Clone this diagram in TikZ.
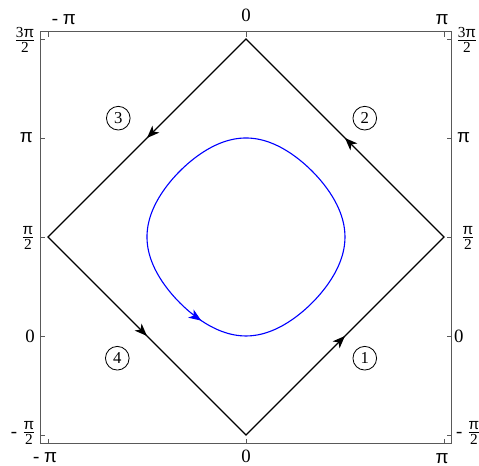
\documentclass[tikz,border=0pt]{standalone}
\usepackage{fontspec}
\setmainfont{Liberation Serif}
\newfontfamily\pisans{Liberation Sans}
\usetikzlibrary{arrows.meta,decorations.markings}

\newcommand{\PI}{{\pisans π}}
\newcommand{\fracsz}{\fontsize{11}{12}\selectfont}
\newcommand{\halfof}[1]{$\frac{\mbox{\fracsz #1}}{\mbox{\fracsz 2}}$}

\begin{document}
\begin{tikzpicture}[x=2.5cm,y=2.5cm,>=Stealth,
  frm/.style={black!65,line width=0.7pt},
  tck/.style={black!65,line width=0.5pt},
  lbl/.style={font=\fontsize{13.5}{15}\selectfont,inner sep=0pt},
  num/.style={draw,circle,line width=0.6pt,inner sep=0pt,minimum size=17pt,font=\fontsize{12}{13}\selectfont},
  dia/.style={line width=0.9pt,line join=miter},
  diaarrows/.style={postaction={decorate},decoration={markings,
    mark=at position 0.125 with {\arrow{Stealth[length=9pt,width=7pt,inset=2.5pt]}},
    mark=at position 0.375 with {\arrow{Stealth[length=9pt,width=7pt,inset=2.5pt]}},
    mark=at position 0.625 with {\arrow{Stealth[length=9pt,width=7pt,inset=2.5pt]}},
    mark=at position 0.875 with {\arrow{Stealth[length=9pt,width=7pt,inset=2.5pt]}}}},
  orbitarrow/.style={postaction={decorate},decoration={markings,
    mark=at position 0.7cm with {\arrow{Stealth[length=9pt,width=7pt,inset=2.5pt]}}}}
]
\useasboundingbox (-2.485,-1.313) rectangle (2.354,3.394);

% frame and ticks
\draw[frm] (-2.081,-1.091) rectangle (2.081,3.071);
\foreach \y in {-1,0,1,2,3} {
  \draw[tck] (-2.081,\y) -- ++(0.05,0);
  \draw[tck] (2.081,\y) -- ++(-0.05,0);
}
\foreach \x in {-2,0,2} {
  \draw[tck] (\x,-1.091) -- ++(0,0.05);
  \draw[tck] (\x,3.071) -- ++(0,-0.05);
}

% left labels
\node[lbl,anchor=east] (l3) at (-2.12,2.99) {\halfof{3\PI}};
\node[lbl,anchor=east] (l2) at (-2.15,2) {\PI};
\node[lbl,anchor=east] (l1) at (-2.13,0.99) {\halfof{\PI}};
\node[lbl,anchor=east] (l0) at (-2.13,0) {0};
\node[lbl,anchor=east] (lm) at (-2.12,-0.98) {- \halfof{\PI}};
% right labels
\node[lbl,anchor=west] (r3) at (2.12,2.99) {\halfof{3\PI}};
\node[lbl,anchor=west] (r2) at (2.13,2) {\PI};
\node[lbl,anchor=west] (r1) at (2.17,0.99) {\halfof{\PI}};
\node[lbl,anchor=west] (r0) at (2.1,0) {0};
\node[lbl,anchor=west] (rm) at (2.12,-0.98) {- \halfof{\PI}};
% top labels
\node[lbl] (t0) at (-1.84,3.2) {- \PI};
\node[lbl] (t1) at (0,3.24) {0};
\node[lbl] (t2) at (1.98,3.2) {\PI};
% bottom labels
\node[lbl] (b0) at (-2.03,-1.23) {- \PI};
\node[lbl] (b1) at (0,-1.22) {0};
\node[lbl] (b2) at (1.98,-1.24) {\PI};

% separatrix
\coordinate (bt) at (0,-1);
\coordinate (rt) at (2,1);
\coordinate (tp) at (0,3);
\coordinate (lf) at (-2,1);
\draw[dia,diaarrows] (bt) -- (rt) -- (tp) -- (lf) -- cycle;

% closed orbit
\draw[blue,line width=0.8pt,orbitarrow]
  plot[domain=-2/3:2/3,samples=60] (\x,{1-acos(1-cos(90*\x))/90})
  -- plot[domain=-2/3:2/3,samples=60] ({acos(1-cos(90*\x))/90},{1+\x})
  -- plot[domain=-2/3:2/3,samples=60] ({-\x},{1+acos(1-cos(90*\x))/90})
  -- plot[domain=-2/3:2/3,samples=60] ({-acos(1-cos(90*\x))/90},{1-\x})
  -- cycle;

% branch labels
\node[num] (n1) at (1.20,-0.225) {1};
\node[num] (n2) at (1.20,2.20) {2};
\node[num] (n3) at (-1.29,2.20) {3};
\node[num] (n4) at (-1.30,-0.225) {4};
\end{tikzpicture}
\end{document}
